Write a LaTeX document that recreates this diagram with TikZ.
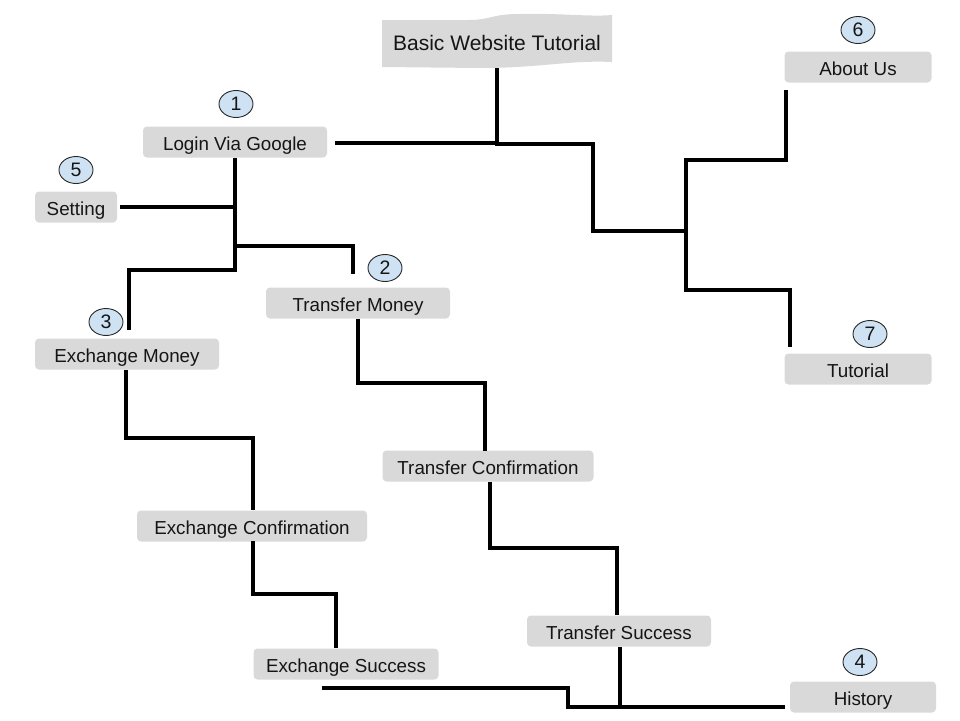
\documentclass[tikz,border=0pt]{standalone}
\usepackage{fontspec}
\setmainfont{Liberation Sans}
\usetikzlibrary{shapes.geometric}
\definecolor{boxgray}{HTML}{D9D9D9}
\definecolor{numblue}{HTML}{CFE2F3}
\definecolor{txt}{HTML}{151515}
\begin{document}
\begin{tikzpicture}[x=1pt,y=-1pt,
  box/.style={fill=boxgray,rounded corners=4pt,minimum height=31pt,inner sep=0pt,text height=17pt,text depth=1pt,text=txt,font=\fontsize{18.8}{22}\selectfont},
  num/.style={ellipse,draw=black!85,line width=0.9pt,fill=numblue,minimum width=34pt,minimum height=27pt,inner sep=0pt,text=txt,font=\fontsize{19.5}{22}\selectfont},
  conn/.style={line width=3.3pt,black}]
\useasboundingbox (0,0) rectangle (960,720);
% banner
\fill[boxgray] (382,20) -- (468,20) .. controls (492,20) and (490,14) .. (520,14)
  .. controls (560,13) and (590,17) .. (612,15) -- (612,62)
  .. controls (570,60) and (540,68) .. (480,68) -- (382,67) -- cycle;
\node[text=txt,font=\fontsize{21}{25}\selectfont] (title) at (497,43) {Basic Website Tutorial};
% boxes
\node[box,minimum width=184pt] (login) at (235,142) {Login Via Google};
\node[box,minimum width=82pt] (setting) at (76,207) {Setting};
\node[box,minimum width=184pt] (tmoney) at (358,303) {Transfer Money};
\node[box,minimum width=184pt] (emoney) at (127,354) {Exchange Money};
\node[box,minimum width=211pt] (tconf) at (488,466) {Transfer Confirmation};
\node[box,minimum width=230pt] (econf) at (252,526) {Exchange Confirmation};
\node[box,minimum width=184pt] (tsucc) at (619,631) {Transfer Success};
\node[box,minimum width=185pt] (esucc) at (346,664) {Exchange Success};
\node[box,minimum width=146pt] (history) at (863,697) {History};
\node[box,minimum width=147pt] (about) at (858,67) {About Us};
\node[box,minimum width=147pt] (tutorial) at (858,369) {Tutorial};
% numbers
\node[num] (n1) at (236,104) {1};
\node[num] (n2) at (385,268) {2};
\node[num] (n3) at (106,322) {3};
\node[num] (n4) at (860,662) {4};
\node[num] (n5) at (76,170) {5};
\node[num] (n6) at (858,30) {6};
\node[num] (n7) at (870,334) {7};
% connector end points
\coordinate (tb) at (497,68);
\coordinate (lgE) at (335,143);
\coordinate (abS) at (786,90);
\coordinate (tuN) at (790,347);
\coordinate (stE) at (120,207);
\coordinate (emN) at (129,330);
\coordinate (tmN) at (353,274);
\coordinate (esB) at (322,688);
\coordinate (hiW) at (785,707);
% connectors
\draw[conn] (tb) -- (497,143) -- (lgE);
\draw[conn] (497,143) -- (497,144) -- (593,144) -- (593,231) -- (686,231);
\draw[conn] (abS) -- (786,160) -- (686,160) -- (686,290) -- (790,290) -- (tuN);
\draw[conn] (login.south) -- (235,270) -- (129,270) -- (emN);
\draw[conn] (stE) -- (235,207);
\draw[conn] (235,246) -- (353,246) -- (tmN);
\draw[conn] (tmoney.south) -- (358,383) -- (485,383) -- (485,451);
\draw[conn] (490,482) -- (490,548) -- (617,548) -- (617,615);
\draw[conn] (126,370) -- (126,438) -- (253,438) -- (253,510);
\draw[conn] (253,541) -- (253,594) -- (336,594) -- (336,648);
\draw[conn] (esB) -- (568,688) -- (568,707) -- (hiW);
\draw[conn] (620,647) -- (620,707);
\end{tikzpicture}
\end{document}
